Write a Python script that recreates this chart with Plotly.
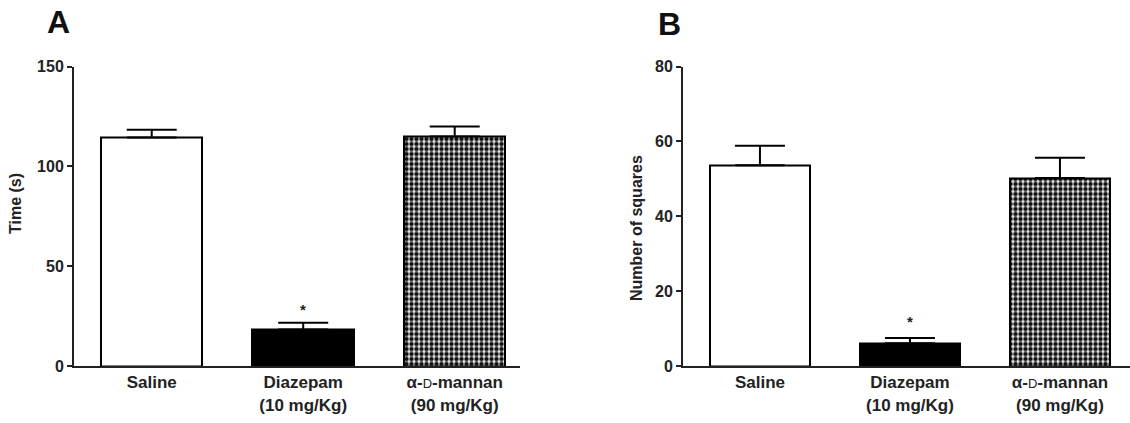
import plotly.graph_objects as go

categories = ["Saline", "Diazepam<br>(10 mg/Kg)",
              "α-<span style='font-size:13px;font-weight:normal'>D</span>-mannan<br>(90 mg/Kg)"]
time_mean = [114.5, 18.3, 115.0]
time_err = [3.8, 3.4, 5.0]
squares_mean = [53.6, 6.1, 50.2]
squares_err = [5.2, 1.4, 5.4]
star_a = 28.5
star_b = 11.8
yticks_a = [0, 50, 100, 150]
yticks_b = [0, 20, 40, 60, 80]

W, H = 1130, 423
FONT = "Liberation Sans, Arial, sans-serif"

fills = ["white", "black", "white"]
patterns = [None, None, "."]

fig = go.Figure()

def add_bars(xaxis, yaxis, means, errs):
    for i, (m, e) in enumerate(zip(means, errs)):
        marker = dict(color=fills[i], line=dict(color="black", width=2))
        if patterns[i]:
            marker["pattern"] = dict(shape=patterns[i], fgcolor="#111111", bgcolor="#e6e6e6",
                                     size=5, solidity=0.6, fillmode="replace")
        fig.add_trace(go.Bar(
            x=[i], y=[m], width=0.67, marker=marker,
            error_y=dict(type="data", array=[e], arrayminus=[0], symmetric=False,
                         thickness=2, width=25, color="black"),
            xaxis=xaxis, yaxis=yaxis, showlegend=False, hoverinfo="skip"))

add_bars("x", "y", time_mean, time_err)
add_bars("x2", "y2", squares_mean, squares_err)

y_bot = (H - 366) / H
y_top = (H - 66.5) / H

tickfont = dict(family=FONT, size=16, color="#222222")
catfont = dict(family=FONT, size=17, color="#222222")

common_y = dict(showline=True, linewidth=2, linecolor="#222222", ticks="outside",
                ticklen=5, tickwidth=2, tickcolor="#222222", showgrid=False,
                zeroline=False, tickfont=tickfont, domain=[y_bot, y_top], automargin=False)
common_x = dict(showline=True, linewidth=2, linecolor="#222222", ticks="",
                showgrid=False, zeroline=False, tickfont=catfont, automargin=False,
                tickmode="array", tickvals=[0, 1, 2], ticktext=[f"<b>{c}</b>" for c in categories])

fig.update_layout(
    template="none",
    width=W, height=H, margin=dict(l=0, r=0, t=0, b=0, pad=0),
    paper_bgcolor="white", plot_bgcolor="white",
    font=dict(family=FONT, size=16, color="#222222"),
    xaxis=dict(domain=[74 / W, 520 / W], range=[-0.513, 2.431], anchor="y", **common_x),
    xaxis2=dict(domain=[683 / W, 1.0], range=[-0.513, 2.467], anchor="y2", **common_x),
    yaxis=dict(range=[0, 150], tickvals=yticks_a,
               ticktext=[f"<b>{v}</b>" for v in yticks_a], anchor="x", **common_y),
    yaxis2=dict(range=[0, 80], tickvals=yticks_b,
                ticktext=[f"<b>{v}</b>" for v in yticks_b], anchor="x2", **common_y),
    bargap=0,
)

annotations = [
    dict(text="<b>A</b>", x=58 / W, y=(H - 22) / H, xref="paper", yref="paper",
         showarrow=False, font=dict(family=FONT, size=32, color="#111111"),
         xanchor="center", yanchor="middle"),
    dict(text="<b>B</b>", x=669 / W, y=(H - 24) / H, xref="paper", yref="paper",
         showarrow=False, font=dict(family=FONT, size=32, color="#111111"),
         xanchor="center", yanchor="middle"),
    dict(text="<b>Time (s)</b>", x=15 / W, y=(H - 204) / H, xref="paper", yref="paper",
         showarrow=False, textangle=-90, font=dict(family=FONT, size=16, color="#222222"),
         xanchor="center", yanchor="middle"),
    dict(text="<b>Number of squares</b>", x=636 / W, y=(H - 228) / H, xref="paper", yref="paper",
         showarrow=False, textangle=-90, font=dict(family=FONT, size=16, color="#222222"),
         xanchor="center", yanchor="middle"),
    dict(text="<b>*</b>", x=1, y=star_a, xref="x", yref="y", showarrow=False,
         font=dict(family=FONT, size=15, color="#222222"), xanchor="center", yanchor="middle"),
    dict(text="<b>*</b>", x=1, y=star_b, xref="x2", yref="y2", showarrow=False,
         font=dict(family=FONT, size=15, color="#222222"), xanchor="center", yanchor="middle"),
]
fig.update_layout(annotations=annotations)

fig.write_html("out.html")
